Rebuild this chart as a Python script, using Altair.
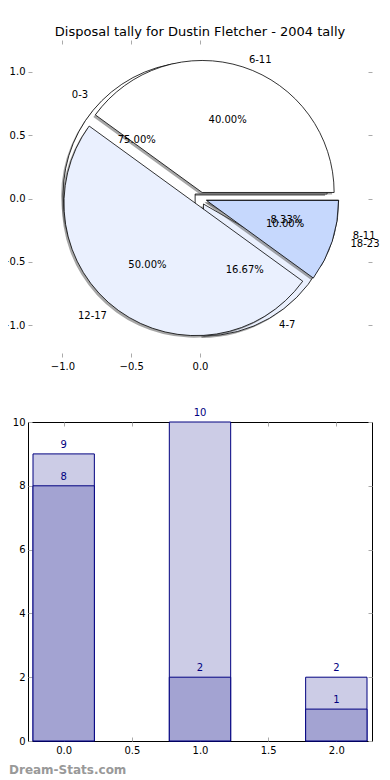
import math
import altair as alt
import pandas as pd

# ---------------- data ----------------
pie_a_labels = ["0-3", "4-7", "8-11"]
pie_a_values = [9, 2, 1]
pie_b_labels = ["6-11", "12-17", "18-23"]
pie_b_values = [8, 10, 2]
slice_colors = ["#FFFFFF", "#EAF0FE", "#C6D8FD"]

bar_positions = [0, 1, 2]
bar_back_values = [9, 10, 2]
bar_front_values = [8, 2, 1]

pie_x_ticks = [-1.0, -0.5, 0.0]
pie_y_ticks = [-1.0, -0.5, 0.0, 0.5, 1.0]
bar_x_ticks = [0.0, 0.5, 1.0, 1.5, 2.0]
bar_y_ticks = [0, 2, 4, 6, 8, 10]

pie_title = "Disposal tally for Dustin Fletcher - 2004 tally"
footer_text = "Dream-Stats.com"

# ---------------- styles ----------------
FONT = "DejaVu Sans"
EXPLODE = 0.05
RADIUS = 132
PANEL_W = 344
PIE_H = 317
BAR_H = 319
TICK_COLOR = "#aaaaaa"
NAVY = "#000080"

rows = []
for pid, (labs, vals) in enumerate([(pie_a_labels, pie_a_values), (pie_b_labels, pie_b_values)]):
    for i, (l, v) in enumerate(zip(labs, vals)):
        rows.append({"pie": pid, "idx": i, "label": l, "value": v, "color": slice_colors[i]})
pie_df = pd.DataFrame(rows)

xs = alt.Scale(domain=[-1.25, 1.25], nice=False, zero=False)
ys = alt.Scale(domain=[-1.25, 1.25], nice=False, zero=False)
ts = alt.Scale(domain=[0, 1], range=[2.5 * math.pi, 0.5 * math.pi])

base = (
    alt.Chart(pie_df)
    .transform_joinaggregate(total="sum(value)", groupby=["pie"])
    .transform_window(cum="sum(value)", groupby=["pie"], sort=[alt.SortField("idx")], frame=[None, 0])
    .transform_calculate(
        f1="datum.cum / datum.total",
        f0="(datum.cum - datum.value) / datum.total",
        mid="PI * (datum.f0 + datum.f1)",
        cx=f"{EXPLODE} * cos(datum.mid)",
        cy=f"{EXPLODE} * sin(datum.mid)",
        lx="datum.cx + 1.1 * cos(datum.mid)",
        ly="datum.cy + 1.1 * sin(datum.mid)",
        px="datum.cx + 0.6 * cos(datum.mid)",
        py="datum.cy + 0.6 * sin(datum.mid)",
        pct="format(datum.value / datum.total * 100, '.2f') + '%'",
    )
)

arc_enc = dict(
    x=alt.X("cx:Q", scale=xs, axis=None),
    y=alt.Y("cy:Q", scale=ys, axis=None),
    theta=alt.Theta("f0:Q", scale=ts),
    theta2="f1:Q",
)


def shadow(pid):
    return base.transform_filter(f"datum.pie == {pid}").mark_arc(
        radius=RADIUS, fill="#4d4d4d", fillOpacity=0.5, xOffset=-2, yOffset=2
    ).encode(**arc_enc)


def wedge(pid):
    return base.transform_filter(f"datum.pie == {pid}").mark_arc(
        radius=RADIUS, stroke="black", strokeWidth=0.8
    ).encode(fill=alt.Fill("color:N", scale=None), **arc_enc)


def ax(orient, values, labels, fmt, pad=3):
    return alt.Axis(
        orient=orient, values=values, labels=labels, format=fmt, title=None,
        grid=False, domain=False, ticks=True, tickSize=4, tickColor=TICK_COLOR,
        tickWidth=1, offset=-4, labelPadding=pad, labelFont=FONT, labelFontSize=10,
        labelColor="black",
    )


axis_df = pd.DataFrame({"ax": [0.0], "ay": [0.0]})
pie_axes1 = alt.Chart(axis_df).mark_point(opacity=0).encode(
    x=alt.X("ax:Q", scale=xs, axis=ax("bottom", pie_x_ticks, True, ".1f", 4)),
    y=alt.Y("ay:Q", scale=ys, axis=ax("left", pie_y_ticks, True, ".1f")),
)
pie_axes2 = alt.Chart(axis_df).mark_point(opacity=0).encode(
    x=alt.X("ax:Q", scale=xs, axis=ax("top", pie_x_ticks, False, ".1f")),
    y=alt.Y("ay:Q", scale=ys, axis=ax("right", pie_y_ticks, False, ".1f")),
)

txt_common = dict(fontSize=10, font=FONT, color="black", baseline="middle")
lab_right = base.transform_filter("datum.lx > 0").mark_text(align="left", **txt_common).encode(
    x=alt.X("lx:Q", scale=xs, axis=None), y=alt.Y("ly:Q", scale=ys, axis=None), text="label:N")
lab_left = base.transform_filter("datum.lx <= 0").mark_text(align="right", **txt_common).encode(
    x=alt.X("lx:Q", scale=xs, axis=None), y=alt.Y("ly:Q", scale=ys, axis=None), text="label:N")
pct = base.mark_text(align="center", **txt_common).encode(
    x=alt.X("px:Q", scale=xs, axis=None), y=alt.Y("py:Q", scale=ys, axis=None), text="pct:N")

pie = alt.layer(
    pie_axes1, pie_axes2,
    shadow(0), wedge(0), shadow(1), wedge(1),
    lab_right, lab_left, pct,
).resolve_axis(x="independent", y="independent").properties(
    width=PANEL_W, height=PIE_H,
    title=alt.Title(pie_title, font=FONT, fontSize=13, fontWeight="normal", color="black",
                    anchor="middle", offset=1),
    view=alt.ViewBackground(strokeOpacity=0),
)

# ---------------- bar chart ----------------
bar_df = pd.DataFrame({"pos": bar_positions, "back": bar_back_values, "front": bar_front_values})
bx = alt.Scale(domain=[-0.225, 2.225], nice=False, zero=False)
by = alt.Scale(domain=[0, 10], nice=False)
bbase = alt.Chart(bar_df).transform_calculate(x0="datum.pos - 0.225", x1="datum.pos + 0.225")

back_bars = bbase.mark_bar(fill="#CCCCE6", stroke=NAVY, strokeWidth=1, orient="vertical").encode(
    x=alt.X("x0:Q", scale=bx, axis=ax("bottom", bar_x_ticks, True, ".1f", 4)),
    x2="x1:Q",
    y=alt.Y("back:Q", scale=by, axis=ax("left", bar_y_ticks, True, "d")),
)
front_bars = bbase.mark_bar(fill="#A3A3D2", stroke=NAVY, strokeWidth=1, orient="vertical").encode(
    x=alt.X("x0:Q", scale=bx, axis=ax("top", bar_x_ticks, False, ".1f")),
    x2="x1:Q",
    y=alt.Y("front:Q", scale=by, axis=ax("right", bar_y_ticks, False, "d")),
)
bt = dict(fontSize=10, font=FONT, color=NAVY, baseline="middle", align="center", dy=-9)
back_txt = bbase.mark_text(**bt).encode(
    x=alt.X("pos:Q", scale=bx, axis=None), y=alt.Y("back:Q", scale=by, axis=None), text="back:Q")
front_txt = bbase.mark_text(**bt).encode(
    x=alt.X("pos:Q", scale=bx, axis=None), y=alt.Y("front:Q", scale=by, axis=None), text="front:Q")

bars = alt.layer(back_bars, front_bars, back_txt, front_txt).resolve_axis(
    x="independent", y="independent"
).properties(
    width=PANEL_W, height=BAR_H,
    title=alt.Title(footer_text, orient="bottom", anchor="start", frame="group", font=FONT,
                    fontSize=12, fontWeight="bold", color="#999999", dx=-19, offset=10),
    view=alt.ViewBackground(stroke="black", strokeWidth=1),
)

chart = alt.vconcat(pie, bars, spacing=36).properties(
    padding={"left": -8, "top": 17, "right": 0, "bottom": 0}
).configure(font=FONT)

chart.save("out.html", embed_options={"renderer": "svg", "actions": False})
